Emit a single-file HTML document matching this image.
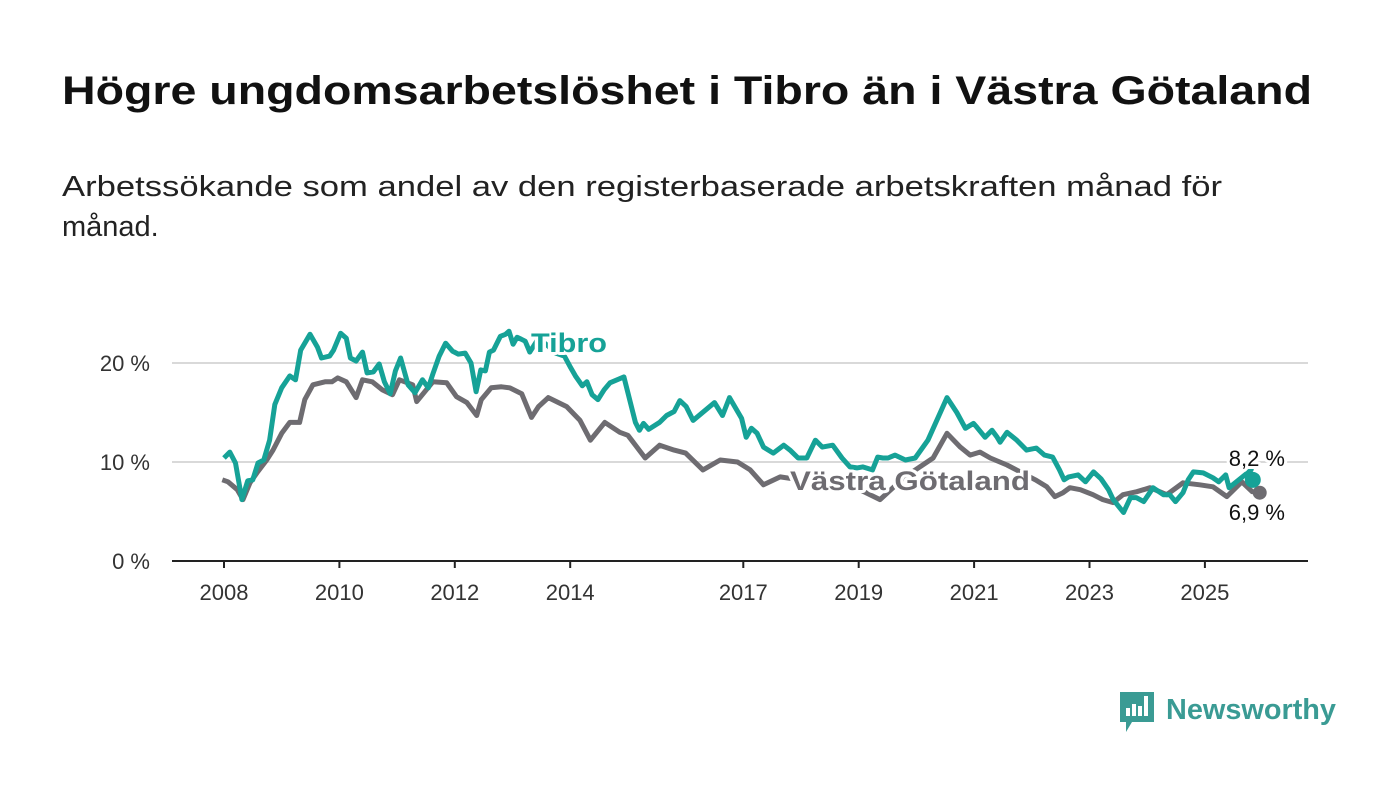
<!DOCTYPE html>
<html><head><meta charset="utf-8"><style>
html,body{margin:0;padding:0;background:#fff;}
svg{display:block;font-family:"Liberation Sans",sans-serif;}
</style></head><body>
<svg id="chart" width="1400" height="794" viewBox="0 0 1400 794">
<text x="62" y="104" font-size="40" font-weight="bold" fill="#111" textLength="1250" lengthAdjust="spacingAndGlyphs">Högre ungdomsarbetslöshet i Tibro än i Västra Götaland</text>
<text x="62" y="196" font-size="29" fill="#222" textLength="1160" lengthAdjust="spacingAndGlyphs">Arbetssökande som andel av den registerbaserade arbetskraften månad för</text>
<text x="62" y="236" font-size="29" fill="#222">månad.</text>
<g id="grid"></g><g id="xaxis"></g><g id="lines"></g><g id="labels"></g>
<g>
<path d="M1120,692 h34 v30 h-22 l-6,10 v-10 h-6 z" fill="#3a9b94"/>
<rect x="1126" y="708" width="4" height="8" fill="#fff"/><rect x="1132" y="704" width="4" height="12" fill="#fff"/><rect x="1138" y="706" width="4" height="10" fill="#fff"/><rect x="1144" y="696" width="4" height="20" fill="#fff"/>
<text x="1166" y="719" font-size="29" font-weight="bold" fill="#3a9b94" textLength="170" lengthAdjust="spacingAndGlyphs">Newsworthy</text>
</g>
</svg>
<script>
const yTicks=[0,10,20];
const yTickLabels=["0 %","10 %","20 %"];
const xTicks=[2008,2010,2012,2014,2017,2019,2021,2023,2025];
const tibroX=[2008.0,2008.1,2008.2,2008.31,2008.41,2008.5,2008.59,2008.69,2008.79,2008.88,2009.0,2009.14,2009.24,2009.33,2009.49,2009.62,2009.69,2009.83,2009.9,2010.02,2010.12,2010.19,2010.29,2010.4,2010.48,2010.59,2010.69,2010.78,2010.88,2010.97,2011.06,2011.19,2011.31,2011.44,2011.54,2011.62,2011.73,2011.84,2011.96,2012.06,2012.18,2012.28,2012.37,2012.45,2012.53,2012.6,2012.67,2012.79,2012.88,2012.94,2013.01,2013.08,2013.15,2013.22,2013.3,2013.45,2013.6,2013.75,2013.9,2014.01,2014.09,2014.21,2014.29,2014.38,2014.48,2014.59,2014.69,2014.93,2015.13,2015.2,2015.27,2015.36,2015.55,2015.67,2015.8,2015.9,2016.01,2016.13,2016.5,2016.64,2016.76,2016.97,2017.05,2017.14,2017.24,2017.35,2017.52,2017.7,2017.81,2017.95,2018.1,2018.25,2018.37,2018.55,2018.71,2018.85,2018.97,2019.07,2019.24,2019.33,2019.42,2019.51,2019.63,2019.81,2019.98,2020.2,2020.53,2020.7,2020.85,2020.99,2021.05,2021.19,2021.31,2021.4,2021.45,2021.57,2021.74,2021.91,2022.08,2022.22,2022.36,2022.48,2022.56,2022.64,2022.8,2022.93,2023.07,2023.2,2023.33,2023.41,2023.59,2023.71,2023.81,2023.94,2024.02,2024.1,2024.28,2024.39,2024.49,2024.62,2024.71,2024.8,2024.97,2025.14,2025.24,2025.36,2025.42,2025.8,2025.83];
const tibroV=[10.4,11.0,9.9,6.2,8.1,8.2,9.9,10.2,12.2,15.8,17.5,18.7,18.3,21.3,22.9,21.6,20.5,20.7,21.3,23.0,22.5,20.5,20.2,21.1,19.0,19.1,19.9,18.1,16.9,19.2,20.5,17.8,17.0,18.3,17.5,18.9,20.7,22.0,21.2,20.9,21.0,20.0,17.1,19.3,19.2,21.1,21.3,22.7,22.9,23.2,21.9,22.6,22.4,22.2,21.1,22.5,21.8,21.0,20.7,19.5,18.7,17.7,18.1,16.8,16.3,17.3,18.0,18.6,14.0,13.2,13.9,13.3,14.0,14.7,15.1,16.2,15.6,14.2,16.0,14.7,16.5,14.4,12.5,13.4,12.9,11.5,10.9,11.7,11.2,10.4,10.4,12.2,11.5,11.7,10.4,9.5,9.4,9.5,9.2,10.5,10.4,10.4,10.7,10.2,10.4,12.2,16.5,15.0,13.4,13.9,13.5,12.5,13.2,12.5,12.0,13.0,12.2,11.2,11.4,10.7,10.5,9.2,8.2,8.5,8.7,8.0,9.0,8.3,7.2,6.2,4.9,6.4,6.4,6.0,6.7,7.4,6.7,6.7,6.0,6.9,8.2,9.0,8.9,8.4,8.0,8.7,7.4,9.2,10.0,8.3,8.2];
const vgX=[2007.97,2008.07,2008.23,2008.33,2008.45,2008.57,2008.74,2008.85,2009.0,2009.14,2009.31,2009.4,2009.54,2009.75,2009.87,2009.97,2010.12,2010.29,2010.4,2010.57,2010.74,2010.92,2011.04,2011.27,2011.34,2011.62,2011.86,2012.03,2012.21,2012.38,2012.46,2012.63,2012.81,2012.95,2013.16,2013.33,2013.45,2013.62,2013.94,2014.17,2014.35,2014.6,2014.86,2015.0,2015.3,2015.55,2015.8,2016.0,2016.3,2016.6,2016.9,2017.12,2017.35,2017.64,2017.98,2018.5,2019.02,2019.37,2019.8,2020.29,2020.53,2020.76,2020.93,2021.1,2021.28,2021.57,2022.06,2022.26,2022.4,2022.54,2022.66,2022.84,2023.06,2023.23,2023.41,2023.58,2023.82,2024.05,2024.34,2024.62,2024.91,2025.14,2025.38,2025.64,2025.82,2025.95];
const vgV=[8.2,8.0,7.2,6.2,7.9,8.9,10.2,11.2,12.9,14.0,14.0,16.3,17.8,18.1,18.1,18.5,18.1,16.5,18.3,18.1,17.3,16.8,18.3,17.8,16.1,18.1,18.0,16.6,16.0,14.7,16.3,17.5,17.6,17.5,16.9,14.5,15.6,16.5,15.6,14.2,12.2,14.0,13.0,12.7,10.4,11.7,11.2,10.9,9.2,10.2,10.0,9.2,7.7,8.5,8.2,7.7,7.2,6.2,8.5,10.4,12.9,11.5,10.7,11.0,10.4,9.7,8.2,7.5,6.5,6.9,7.4,7.2,6.7,6.2,5.9,6.7,7.0,7.4,6.7,7.9,7.7,7.5,6.5,8.0,7.0,6.9];
const NS="http://www.w3.org/2000/svg";
const X0=172,X1=1308;
function xs(y){return 224+(y-2008)*57.7;}
function ys(v){return 561-v*9.9;}
function mk(tag,attrs,parent){const e=document.createElementNS(NS,tag);for(const k in attrs)e.setAttribute(k,attrs[k]);document.getElementById(parent).appendChild(e);return e;}
yTicks.forEach((t,i)=>{
  const l=mk('line',{x1:X0,x2:X1,y1:ys(t),y2:ys(t),stroke:t===0?'#222':'#d9d9d9','stroke-width':2},'grid');
  
  
  const tx=mk('text',{x:150,y:ys(t)+8,'text-anchor':'end','font-size':22,fill:'#333'},'grid');
  tx.textContent=yTickLabels[i];
  
  
});
xTicks.forEach(t=>{
  const l=mk('line',{x1:xs(t),x2:xs(t),y1:561,y2:568,stroke:'#222','stroke-width':2},'xaxis');
  
  
  const tx=mk('text',{x:xs(t),y:600,'text-anchor':'middle','font-size':22,fill:'#333'},'xaxis');
  tx.textContent=String(t);
  
  
});
function path(X,V){return X.map((x,i)=>(i?'L':'M')+xs(x).toFixed(1)+','+ys(V[i]).toFixed(1)).join('');}
const g=mk('path',{d:path(vgX,vgV),fill:'none',stroke:'#6e6c71','stroke-width':5,'stroke-linejoin':'round'},'lines');


const t=mk('path',{d:path(tibroX,tibroV),fill:'none',stroke:'#16a297','stroke-width':5,'stroke-linejoin':'round'},'lines');


const gd=mk('circle',{cx:xs(vgX[vgX.length-1]),cy:ys(vgV[vgV.length-1]),r:7,fill:'#6e6c71'},'lines');


const td=mk('circle',{cx:xs(tibroX[tibroX.length-1]),cy:ys(tibroV[tibroV.length-1]),r:8,fill:'#16a297'},'lines');


function lab(txt,x,y,attrs,name){const e=mk('text',Object.assign({x:x,y:y,'paint-order':'stroke',stroke:'#fff','stroke-width':6,'stroke-linejoin':'round'},attrs),'labels');e.textContent=txt;

}
lab('Tibro',531,352,{'font-size':27,'font-weight':'bold',fill:'#16a297',textLength:76,lengthAdjust:'spacingAndGlyphs'},'tibro-label');
lab('Västra Götaland',790,490,{'font-size':27,'font-weight':'bold',fill:'#6e6c71',textLength:240,lengthAdjust:'spacingAndGlyphs'},'vastra-gotaland-label');
lab('8,2 %',1285,466,{'font-size':22,fill:'#111','text-anchor':'end'},'tibro-end-value');
lab('6,9 %',1285,520,{'font-size':22,fill:'#111','text-anchor':'end'},'vastra-gotaland-end-value');
</script>
</body></html>
